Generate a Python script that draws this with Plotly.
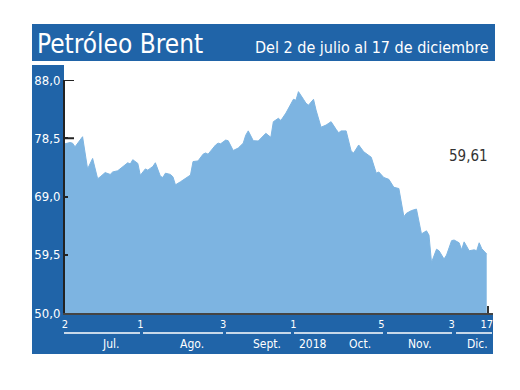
import plotly.graph_objects as go

# ---- data ----
dates = [
    "2018-07-02", "2018-07-04", "2018-07-05", "2018-07-06", "2018-07-09", "2018-07-11",
    "2018-07-13", "2018-07-15", "2018-07-16", "2018-07-18", "2018-07-20", "2018-07-21",
    "2018-07-23", "2018-07-25", "2018-07-27", "2018-07-28", "2018-07-29", "2018-07-31",
    "2018-08-01", "2018-08-03", "2018-08-04", "2018-08-06", "2018-08-07", "2018-08-09",
    "2018-08-10", "2018-08-11", "2018-08-13", "2018-08-14", "2018-08-15", "2018-08-17",
    "2018-08-19", "2018-08-21", "2018-08-22", "2018-08-24", "2018-08-26", "2018-08-27",
    "2018-08-28", "2018-08-31", "2018-09-01", "2018-09-02", "2018-09-04", "2018-09-05",
    "2018-09-07", "2018-09-09", "2018-09-11", "2018-09-12", "2018-09-13", "2018-09-15",
    "2018-09-17", "2018-09-19", "2018-09-20", "2018-09-22", "2018-09-23", "2018-09-25",
    "2018-09-26", "2018-09-28", "2018-10-01", "2018-10-02", "2018-10-03", "2018-10-05",
    "2018-10-06", "2018-10-07", "2018-10-09", "2018-10-10", "2018-10-12", "2018-10-14",
    "2018-10-16", "2018-10-18", "2018-10-19", "2018-10-20", "2018-10-22", "2018-10-24",
    "2018-10-25", "2018-10-27", "2018-10-29", "2018-11-01", "2018-11-03", "2018-11-04",
    "2018-11-06", "2018-11-08", "2018-11-10", "2018-11-12", "2018-11-14", "2018-11-15",
    "2018-11-17", "2018-11-19", "2018-11-21", "2018-11-23", "2018-11-24", "2018-11-25",
    "2018-11-27", "2018-11-28", "2018-11-30", "2018-12-01", "2018-12-03", "2018-12-04",
    "2018-12-06", "2018-12-07", "2018-12-08", "2018-12-10", "2018-12-12", "2018-12-13",
    "2018-12-14", "2018-12-15", "2018-12-17",
]
prices = [
    77.6, 77.8, 77.7, 77.1, 78.75, 73.5,
    75.2, 71.9, 72.2, 72.9, 72.6, 73.0,
    73.2, 73.9, 74.5, 74.3, 75.0, 74.4,
    72.45, 73.5, 73.3, 73.9, 74.5, 72.3,
    72.1, 72.8, 72.6, 72.2, 70.9, 71.4,
    72.0, 72.5, 74.7, 74.8, 75.9, 76.1,
    75.9, 77.4, 77.7, 77.6, 78.2, 78.1,
    76.5, 76.9, 77.7, 79.0, 79.7, 78.1,
    78.05, 79.0, 79.3, 78.65, 81.2, 81.75,
    81.4, 82.6, 84.85, 84.7, 86.1, 84.85,
    84.2, 83.9, 84.85, 83.1, 80.3, 80.65,
    81.2, 79.95, 79.4, 79.7, 79.7, 76.4,
    76.1, 77.4, 76.3, 75.4, 72.8, 73.0,
    72.1, 71.8, 70.5, 70.3, 65.7, 66.25,
    66.7, 66.95, 62.9, 63.4, 62.7, 58.25,
    60.4, 60.15, 58.8, 59.45, 61.8, 61.9,
    61.45, 60.3, 61.6, 60.15, 60.3, 60.15,
    61.45, 60.5, 59.61,
]
x_tick_dates = ["2018-07-02", "2018-08-01", "2018-09-03", "2018-10-01", "2018-11-05", "2018-12-03", "2018-12-17"]
x_tick_labels = ["2", "1", "3", "1", "5", "3", "17"]
y_tick_vals = [50.0, 59.5, 69.0, 78.5, 88.0]
month_labels = ["Jul.", "Ago.", "Sept.", "2018", "Oct.", "Nov.", "Dic."]
title_text = "Petróleo Brent"
subtitle_text = "Del 2 de julio al 17 de diciembre"
last_value_text = "59,61"

# ---- layout geometry (page pixels; page body has an 8px margin) ----
OFF = 8
W, H = 520 - OFF, 390 - OFF
PL, PR, PT, PB = 65, 493, 80, 313
DARK_BLUE = "#2064a8"
FILL_BLUE = "#7db4e1"
FONT = "DejaVu Sans Condensed, Liberation Sans Narrow, Roboto, sans-serif"


def px(x):
    return (x - PL) / (PR - PL)


def py(y):
    return (PB - y) / (PB - PT)


fig = go.Figure()
fig.add_trace(go.Scatter(
    x=dates, y=prices, mode="lines", fill="tozeroy",
    line=dict(color=FILL_BLUE, width=1), fillcolor=FILL_BLUE,
    hoverinfo="skip", showlegend=False,
))

shapes = []
shapes.append(dict(type="rect", xref="paper", yref="paper", x0=px(32), x1=px(495), y0=py(24), y1=py(61),
                   fillcolor=DARK_BLUE, line=dict(width=0), layer="below"))
shapes.append(dict(type="rect", xref="paper", yref="paper", x0=px(32), x1=px(64), y0=py(65), y1=py(354),
                   fillcolor=DARK_BLUE, line=dict(width=0), layer="below"))
shapes.append(dict(type="rect", xref="paper", yref="paper", x0=px(32), x1=px(493), y0=py(314), y1=py(354),
                   fillcolor=DARK_BLUE, line=dict(width=0), layer="below"))
for v in y_tick_vals[-2:]:
    shapes.append(dict(type="line", xref="paper", yref="y", x0=0, x1=px(74), y0=v, y1=v,
                       line=dict(color="#222222", width=2)))
shapes.append(dict(type="line", xref="paper", yref="paper", x0=px(488), x1=px(488), y0=py(313), y1=py(306),
                   line=dict(color="#333333", width=2)))
segs = [(64, 140), (143, 223), (226, 291), (294, 383), (387, 452), (456, 492)]
for a, b in segs:
    shapes.append(dict(type="line", xref="paper", yref="paper", x0=px(a), x1=px(b), y0=py(333), y1=py(333),
                       line=dict(color="white", width=1.5)))

annotations = []
month_x = [110, 192, 267, 313, 360, 420, 477]
for lab, mx in zip(month_labels, month_x):
    annotations.append(dict(text=lab, xref="paper", yref="paper", x=px(mx), y=py(344),
                            xanchor="center", yanchor="middle", showarrow=False,
                            font=dict(family=FONT, size=12, color="white")))
annotations.append(dict(text=title_text, xref="paper", yref="paper", x=px(35), y=py(44),
                        xanchor="left", yanchor="middle", showarrow=False,
                        font=dict(family=FONT, size=26, color="white")))
annotations.append(dict(text=subtitle_text, xref="paper", yref="paper", x=px(491), y=py(48),
                        xanchor="right", yanchor="middle", showarrow=False,
                        font=dict(family=FONT, size=16, color="white")))
annotations.append(dict(text=last_value_text, xref="paper", yref="paper", x=px(468), y=py(156),
                        xanchor="center", yanchor="middle", showarrow=False,
                        font=dict(family=FONT, size=15, color="#333333")))

fig.update_layout(
    width=W, height=H,
    margin=dict(l=PL - OFF, r=W - (PR - OFF), t=PT - OFF, b=H - (PB - OFF)),
    paper_bgcolor="white", plot_bgcolor="white",
    separators=",.",
    shapes=shapes, annotations=annotations,
    xaxis=dict(
        type="date", range=["2018-07-02", "2018-12-19 12:00"],
        tickmode="array", tickvals=x_tick_dates, ticktext=x_tick_labels,
        showgrid=False, zeroline=False, showline=True, linecolor="#444444", linewidth=2,
        ticks="", tickfont=dict(family=FONT, size=11, color="white"),
        fixedrange=True,
    ),
    yaxis=dict(
        range=[50, 88], tickmode="array", tickvals=y_tick_vals, tickformat=".1f",
        showgrid=False, zeroline=False, showline=True, linecolor="#222222", linewidth=2,
        ticks="inside", ticklen=3, tickcolor="#222222", tickwidth=2,
        tickfont=dict(family=FONT, size=13, color="white"),
        fixedrange=True,
    ),
)

fig.write_html("out.html")
